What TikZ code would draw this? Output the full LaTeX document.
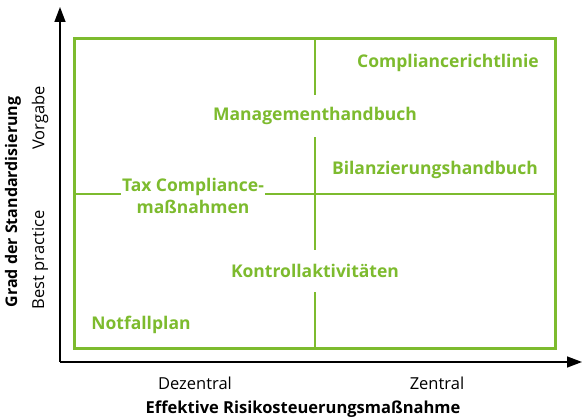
\documentclass[tikz,border=0pt]{standalone}
\usepackage{fontspec}
\setmainfont{Open Sans}
\usetikzlibrary{arrows.meta}
\definecolor{lgreen}{RGB}{125,187,46}

\begin{document}
\begin{tikzpicture}[x=1pt,y=1pt,
  axis/.style={line width=1.4pt,-{Triangle[length=15pt,width=11pt]}},
  grid/.style={draw=lgreen,line width=1.8pt},
  item/.style={text=lgreen,font=\fontsize{17.5}{22}\selectfont\bfseries,inner sep=0pt},
  cut/.style={item,fill=white,inner xsep=1pt,minimum height=42pt},
  lab/.style={font=\fontsize{16.5}{20}\selectfont,inner sep=0pt}]
\useasboundingbox (0,0) rectangle (582,420);
% axes
\coordinate (o) at (60,58);
\coordinate (ytip) at (60,413);
\coordinate (xtip) at (582,58);
\draw[axis] (o) -- (ytip);
\draw[axis] (o) -- (xtip);
% matrix
\draw[grid,line width=3pt] (74,71) rectangle (555,381);
\draw[grid] (315,71) -- (315,381);
\draw[grid] (74,226) -- (555,226);
% entries
\node[item] (comp) at (448,357) {Compliancerichtlinie};
\node[cut] (mgmt) at (315,304) {Managementhandbuch};
\node[item] (bil) at (435,250) {Bilanzierungshandbuch};
\node[cut,align=center] (tax) at (193,224) {Tax Compliance-\\maßnahmen};
\node[cut] (kontr) at (315,149) {Kontrollaktivitäten};
\node[item] (notf) at (141,95) {Notfallplan};
% axis labels
\node[lab] (dez) at (195,37) {Dezentral};
\node[lab] (zen) at (437,37) {Zentral};
\node[lab,font=\fontsize{16.5}{20}\selectfont\bfseries] (xlab) at (303,11) {Effektive Risikosteuerungsmaßnahme};
\node[lab,rotate=90] (vorg) at (40,302) {Vorgabe};
\node[lab,rotate=90] (best) at (40,160) {Best practice};
\node[lab,rotate=90,font=\fontsize{16}{20}\selectfont\bfseries] (ylab) at (13,218) {Grad der Standardisierung};
\end{tikzpicture}
\end{document}
